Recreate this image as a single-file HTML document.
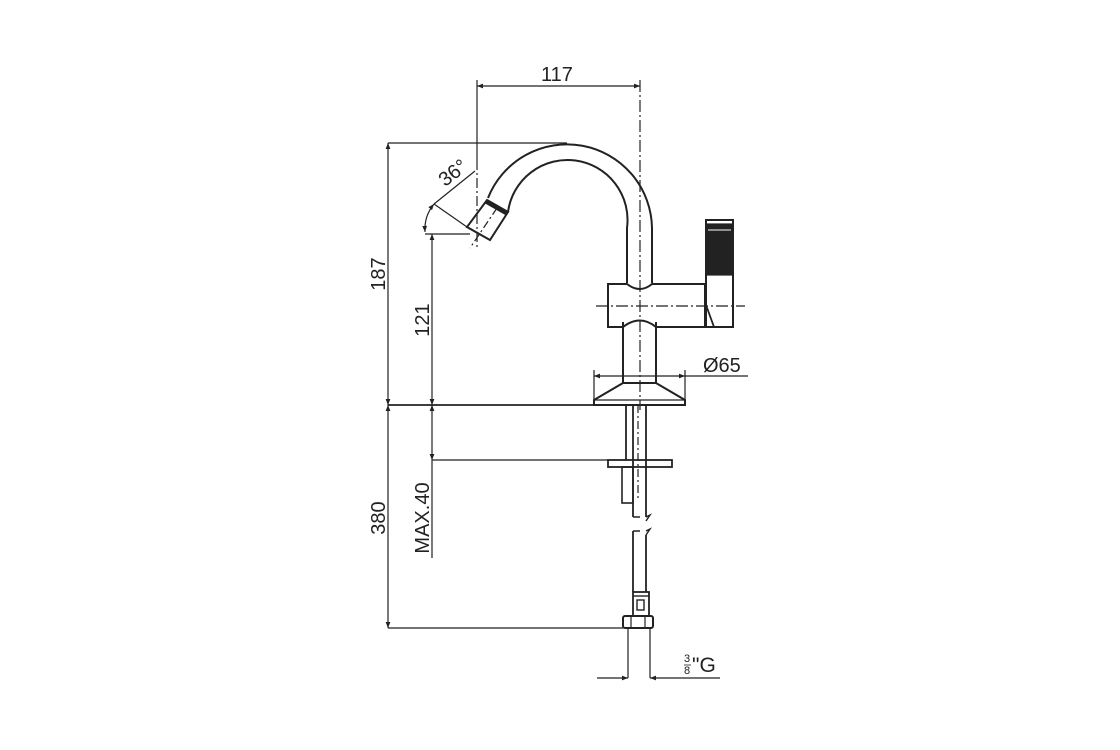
<!DOCTYPE html>
<html><head><meta charset="utf-8"><style>
html,body{margin:0;padding:0;background:#fff;}
svg{display:block;}
text{font-family:"Liberation Sans",sans-serif;fill:#222;}
</style></head><body>
<svg width="1120" height="750" viewBox="0 0 1120 750" xmlns="http://www.w3.org/2000/svg">
<defs>
<marker id="a" viewBox="0 0 10 10" refX="10" refY="5" markerWidth="12" markerHeight="6" orient="auto-start-reverse" markerUnits="userSpaceOnUse"><path d="M0,1 L10,5 L0,9 Z" fill="#222"/></marker>
</defs>
<g stroke="#222" fill="none" stroke-width="1.2">
<line x1="477" y1="86" x2="640" y2="86" marker-start="url(#a)" marker-end="url(#a)"/>
<line x1="477" y1="80" x2="477" y2="160"/>
<line x1="477" y1="160" x2="477" y2="250" stroke-dasharray="10,3,2,3"/>
<line x1="640" y1="80" x2="640" y2="410" stroke-dasharray="12,3,2,3"/>
<line x1="388" y1="143" x2="567" y2="143"/>
<path d="M488,198 A85,85 0 0 1 652,228 L652,283" stroke-width="2"/>
<path d="M508,212 A60,60 0 0 1 627,228 L627,283" stroke-width="2"/>
<polygon points="487,200 508,212 490,240 467,227" stroke-width="2"/>
<line x1="486" y1="202" x2="507" y2="214" stroke-width="3.5"/>
<line x1="497" y1="208" x2="470" y2="248" stroke-dasharray="8,3,2,3"/>
<line x1="475" y1="171" x2="434" y2="204"/>
<line x1="434" y1="204" x2="467" y2="227"/>
<path d="M434,204 A40,40 0 0 0 425,232" marker-start="url(#a)" marker-end="url(#a)"/>
<line x1="425" y1="234" x2="470" y2="234"/>
<path d="M608,284 L627,284 Q640,294 652,284 L705,284 L705,327 L656,327 Q640,314 623,327 L608,327 Z" stroke-width="2"/>
<line x1="623" y1="322" x2="623" y2="383" stroke-width="2"/>
<line x1="656" y1="322" x2="656" y2="383" stroke-width="2"/>
<line x1="596" y1="306" x2="745" y2="306" stroke-dasharray="12,3,2,3"/>
<rect x="706" y="220" width="27" height="107" stroke-width="2"/>
<rect x="706" y="224" width="27" height="51" fill="#222"/>
<line x1="708" y1="230" x2="731" y2="230" stroke="#fff" stroke-width="1"/>
<path d="M706,305 L714,327" stroke-width="1.8"/>
<path d="M623,383 L656,383 L685,400 L685,405 L594,405 L594,400 Z" stroke-width="2"/>
<line x1="594" y1="400" x2="685" y2="400"/>
<line x1="594" y1="376" x2="685" y2="376" marker-start="url(#a)" marker-end="url(#a)"/>
<line x1="685" y1="376" x2="748" y2="376"/>
<line x1="594" y1="370" x2="594" y2="400"/>
<line x1="685" y1="370" x2="685" y2="400"/>
<line x1="388" y1="405" x2="594" y2="405" stroke-width="1.8"/>
<line x1="388" y1="143" x2="388" y2="405" marker-start="url(#a)" marker-end="url(#a)"/>
<line x1="432" y1="234" x2="432" y2="405" marker-start="url(#a)" marker-end="url(#a)"/>
<line x1="388" y1="405" x2="388" y2="628" marker-start="url(#a)" marker-end="url(#a)"/>
<line x1="432" y1="405" x2="432" y2="460" marker-start="url(#a)" marker-end="url(#a)"/>
<line x1="432" y1="460" x2="432" y2="558"/>
<line x1="432" y1="460" x2="608" y2="460"/>
<line x1="388" y1="628" x2="623" y2="628"/>
<line x1="626" y1="405" x2="626" y2="460" stroke-width="1.8"/>
<line x1="646" y1="405" x2="646" y2="517" stroke-width="1.8"/>
<line x1="633" y1="405" x2="633" y2="517" stroke-width="1.8"/>
<line x1="638" y1="405" x2="638" y2="500" stroke-dasharray="8,3,2,3"/>
<rect x="608" y="460" width="64" height="7" stroke-width="1.8"/>
<rect x="622" y="467" width="11" height="36" stroke-width="1.6"/>
<path d="M633,517 L640,517 M646,517 L650,515 L646,521 M633,531 L640,531 M646,531 L650,529 L646,535" stroke-width="1.4"/>
<line x1="633" y1="531" x2="633" y2="592" stroke-width="1.8"/>
<line x1="646" y1="535" x2="646" y2="592" stroke-width="1.8"/>
<rect x="633" y="592" width="16" height="24" stroke-width="1.8"/>
<line x1="633" y1="596" x2="649" y2="596" stroke-width="1.4"/>
<rect x="637" y="600" width="7" height="10" stroke-width="1.4"/>
<rect x="623" y="616" width="30" height="12" rx="2" stroke-width="2"/>
<line x1="631" y1="616" x2="631" y2="628"/><line x1="645" y1="616" x2="645" y2="628"/>
<line x1="628" y1="628" x2="628" y2="678"/>
<line x1="650" y1="628" x2="650" y2="678"/>
<line x1="597" y1="678" x2="628" y2="678" marker-end="url(#a)"/>
<line x1="720" y1="678" x2="650" y2="678" marker-end="url(#a)"/>
</g>
<g font-size="20">
<text x="557" y="81" text-anchor="middle">117</text>
<text x="703" y="372">Ø65</text>
<text transform="translate(385,274) rotate(-90)" text-anchor="middle">187</text>
<text transform="translate(429,320) rotate(-90)" text-anchor="middle">121</text>
<text transform="translate(385,518) rotate(-90)" text-anchor="middle">380</text>
<text transform="translate(429,518) rotate(-90)" text-anchor="middle">MAX.40</text>
<text transform="translate(457,178) rotate(-38)" text-anchor="middle">36°</text>
<text x="684" y="662" font-size="11">3</text>
<text x="684" y="674" font-size="11">8</text>
<text x="692" y="672" font-size="21">"G</text>
</g>
<line x1="684" y1="665" x2="691" y2="665" stroke="#222" stroke-width="0.8"/>
</svg>
</body></html>
